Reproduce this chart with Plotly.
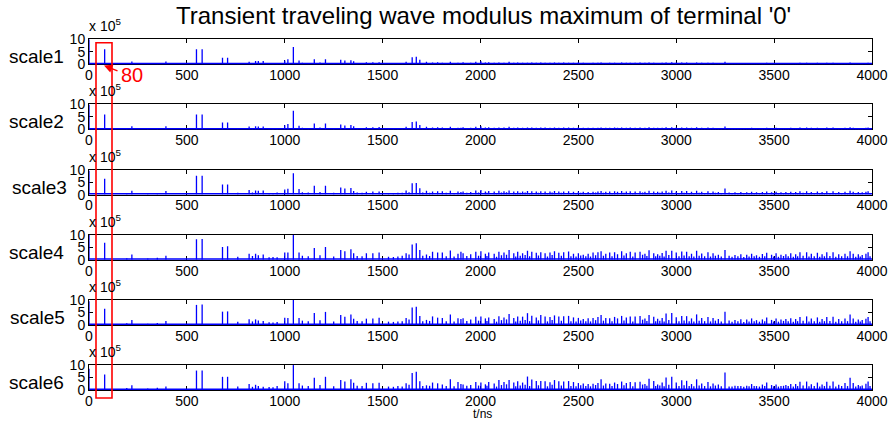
import plotly.graph_objects as go

W, H = 890, 424

t_ns = [0, 80, 193, 219, 300, 349, 393, 549, 578, 682, 708, 818, 851, 865, 890, 961, 1000, 1016, 1044, 1073,
        1151, 1208, 1286, 1307, 1338, 1352, 1417, 1450, 1482, 1578, 1600, 1620, 1635, 1651, 1672, 1690, 1724,
        1755, 1781, 1805, 1846, 1885, 1900, 1911, 1950, 1976, 2002,
        2025, 2042, 2070, 2094, 2120, 2146, 2170, 2190, 2215, 2240,
        2262, 2285, 2308, 2330, 2355, 2378, 2400, 2425, 2450, 2475,
        2500, 2525, 2550, 2575, 2600, 2616, 2640, 2660, 2685, 2700,
        2721, 2745, 2765, 2790, 2815, 2840, 2861, 2885, 2905, 2928,
        2948, 2977, 3000, 3028, 3053, 3078, 3104, 3130, 3162, 3188,
        3215, 3249, 3270, 3300, 3330, 3360, 3385, 3410, 3440, 3462,
        3487, 3510, 3535, 3560, 3585, 3610, 3632, 3666, 3690, 3721,
        3745, 3769, 3801, 3830, 3862, 3888, 3904, 3930, 3950, 3969,
        3980]

scale1 = [10, 6.0, 0.2, 1.1, 0.3, 0.5, 1.1, 6.0, 6.0, 2.6, 2.6, 1.0, 1.3, 1.3, 1.3, 0.5, 1.5, 2.0, 6.9, 1.5,
          2.0, 2.0, 1.8, 1.5, 1.6, 1.2, 0.8, 0.8, 0.8, 0.5, 0.4, 1.0, 0.5, 2.8, 3.0, 1.8, 1.0, 0.7, 0.8, 0.6,
          1.0, 0.6, 0.5, 0.8, 0.6, 1.0, 1.2,
          0.7, 0.8, 0.6, 0.7, 0.6, 1.0, 0.6, 0.7, 0.6, 0.6,
          0.7, 0.6, 0.7, 0.6, 0.6, 0.7, 0.6, 0.7, 0.6, 0.6,
          0.7, 0.6, 0.5, 0.6, 0.6, 0.7, 0.5, 0.6, 0.6, 0.5,
          0.7, 0.6, 0.6, 0.6, 0.7, 0.6, 0.7, 0.6, 0.5, 0.6,
          0.7, 0.8, 0.6, 0.7, 0.7, 0.5, 0.7, 0.6, 0.6, 0.6,
          0.5, 1.0, 0.4, 0.4, 0.5, 0.5, 0.5, 0.4, 0.5, 0.6,
          0.4, 0.5, 0.4, 0.5, 0.5, 0.5, 0.6, 0.6, 0.5, 0.6,
          0.5, 0.6, 0.6, 0.5, 0.5, 0.7, 0.5, 0.5, 0.4, 0.5,
          0.6]

scale2 = [10, 6.0, 0.3, 1.3, 0.3, 0.6, 1.3, 6.0, 6.0, 2.8, 2.8, 1.2, 1.3, 1.2, 1.2, 0.6, 1.7, 2.2, 7.5, 1.5,
          2.4, 2.4, 2.0, 1.6, 1.8, 1.3, 0.9, 0.9, 1.0, 0.6, 0.5, 1.1, 0.6, 3.0, 3.2, 1.8, 1.1, 0.8, 0.9, 0.8,
          1.1, 0.7, 0.7, 0.9, 0.7, 1.1, 1.3,
          0.8, 0.9, 0.7, 0.8, 0.8, 1.1, 0.7, 0.8, 0.7, 0.8,
          0.8, 0.7, 0.8, 0.8, 0.7, 0.8, 0.7, 0.8, 0.8, 0.7,
          0.8, 0.7, 0.7, 0.7, 0.7, 0.8, 0.7, 0.7, 0.8, 0.7,
          0.8, 0.7, 0.8, 0.7, 0.8, 0.7, 0.9, 0.7, 0.7, 0.7,
          0.9, 0.9, 0.8, 0.8, 0.8, 0.7, 0.9, 0.7, 0.8, 0.7,
          0.6, 1.2, 0.5, 0.6, 0.6, 0.6, 0.7, 0.6, 0.6, 0.7,
          0.6, 0.7, 0.6, 0.6, 0.7, 0.6, 0.8, 0.8, 0.7, 0.7,
          0.6, 0.8, 0.8, 0.6, 0.7, 0.9, 0.7, 0.6, 0.6, 0.7,
          0.8]

scale3 = [9.5, 6.3, 0.4, 1.5, 0.4, 0.6, 1.4, 7.5, 7.5, 4.0, 4.0, 1.8, 1.6, 1.5, 1.6, 0.8, 2.0, 2.3, 8.5, 2.2,
          3.5, 3.5, 2.8, 2.4, 2.6, 1.4, 1.1, 1.2, 1.2, 0.7, 0.7, 1.6, 0.9, 4.5, 4.6, 2.5, 1.5, 1.2, 1.3, 1.3,
          1.5, 1.2, 1.0, 1.2, 1.0, 1.6, 1.8,
          1.2, 1.4, 1.2, 1.5, 1.3, 1.6, 1.2, 1.3, 1.2, 1.4,
          1.3, 1.2, 1.3, 1.2, 1.2, 1.4, 1.2, 1.2, 1.3, 1.1,
          1.2, 1.1, 1.0, 1.1, 1.2, 1.4, 1.1, 1.2, 1.3, 1.1,
          1.4, 1.2, 1.3, 1.2, 1.3, 1.1, 1.5, 1.2, 1.1, 1.2,
          1.5, 1.6, 1.2, 1.4, 1.4, 1.1, 1.5, 1.1, 1.3, 1.2,
          1.0, 2.4, 0.8, 0.9, 1.0, 0.9, 1.1, 0.9, 1.0, 1.2,
          0.9, 1.1, 0.9, 1.0, 1.1, 1.0, 1.3, 1.3, 1.0, 1.2,
          1.0, 1.3, 1.3, 1.0, 1.1, 1.5, 1.1, 1.0, 0.9, 1.1,
          1.3]

scale4 = [10, 6.8, 0.6, 2.1, 0.5, 0.8, 1.6, 8.2, 8.3, 5.1, 5.4, 2.4, 2.4, 1.8, 2.1, 1.0, 2.9, 2.9, 10, 2.9,
          4.7, 5.1, 3.9, 3.4, 4.2, 2.6, 2.6, 2.6, 2.9, 1.3, 1.6, 2.6, 2.1, 6.1, 6.6, 3.9, 2.1, 3.2, 2.9, 2.9,
          3.7, 2.4, 3.2, 2.6, 2.2, 3.2, 3.4,
          2.4, 2.9, 2.4, 3.2, 2.9, 3.9, 2.6, 3.2, 2.6, 3.6,
          3.2, 2.8, 3.0, 2.6, 2.9, 3.4, 2.8, 3.0, 3.3, 2.4,
          2.6, 2.0, 2.4, 2.9, 3.0, 3.4, 2.4, 2.9, 3.0, 2.2,
          3.4, 2.6, 3.2, 2.9, 3.2, 2.4, 3.8, 2.6, 2.2, 2.7,
          3.6, 3.6, 2.9, 3.3, 3.2, 2.4, 3.6, 2.5, 3.0, 2.6,
          2.0, 3.9, 1.6, 1.9, 2.2, 2.0, 2.4, 1.8, 2.3, 2.8,
          2.0, 2.6, 2.0, 2.2, 2.6, 2.2, 3.0, 3.0, 2.4, 2.8,
          2.2, 3.0, 3.0, 2.2, 2.4, 3.4, 2.4, 2.2, 1.9, 2.4,
          3.0]

scale5 = [9.5, 6.5, 0.7, 2.0, 0.5, 0.8, 1.6, 8.0, 8.2, 5.3, 5.4, 2.3, 2.2, 1.8, 1.6, 1.2, 2.9, 2.8, 10, 2.8,
          4.8, 5.2, 4.0, 3.3, 4.2, 2.5, 2.5, 2.6, 2.9, 1.4, 1.5, 2.8, 2.2, 7.0, 7.3, 3.6, 2.0, 3.4, 2.9, 2.8,
          4.2, 2.7, 2.4, 2.7, 2.2, 3.3, 3.4,
          2.6, 3.0, 2.4, 3.5, 3.0, 4.4, 2.8, 3.4, 3.3, 4.7,
          3.7, 3.0, 4.0, 3.4, 3.2, 3.8, 3.4, 3.5, 3.6, 3.0,
          2.8, 2.4, 2.7, 2.8, 3.2, 4.0, 2.8, 2.7, 3.2, 2.6,
          3.6, 3.0, 3.4, 3.4, 3.6, 2.6, 4.0, 3.3, 2.5, 2.8,
          4.6, 4.8, 3.1, 3.6, 3.5, 2.6, 4.2, 2.8, 3.2, 2.8,
          2.4, 5.3, 1.8, 2.0, 2.3, 2.2, 2.6, 1.9, 2.2, 3.0,
          2.0, 2.6, 2.2, 2.4, 2.7, 2.4, 3.2, 3.4, 2.6, 3.0,
          2.4, 3.2, 3.3, 2.4, 2.6, 4.2, 2.6, 2.2, 2.0, 2.5,
          3.2]

scale6 = [8.5, 6.2, 0.8, 1.9, 0.6, 0.9, 1.4, 7.8, 7.8, 5.3, 5.3, 2.4, 2.1, 1.6, 1.3, 1.6, 3.5, 2.7, 10, 2.7,
          4.9, 5.3, 4.0, 3.4, 4.3, 2.9, 2.9, 2.7, 2.9, 1.6, 1.4, 2.7, 2.1, 6.8, 7.3, 3.5, 1.9, 3.0, 2.7, 2.2,
          4.3, 3.2, 2.4, 2.2, 2.0, 3.2, 3.0,
          2.3, 3.2, 2.6, 4.0, 3.2, 4.0, 3.0, 3.5, 3.0, 5.4,
          4.2, 3.6, 3.6, 3.5, 3.1, 4.0, 3.5, 3.4, 3.6, 3.2,
          2.8, 2.6, 2.4, 2.5, 2.8, 4.3, 2.6, 2.5, 3.0, 2.4,
          3.4, 2.8, 3.2, 3.1, 3.3, 2.4, 4.5, 3.6, 2.2, 3.0,
          5.0, 5.3, 3.0, 3.9, 3.7, 2.4, 4.3, 2.6, 3.2, 2.6,
          2.2, 7.0, 1.4, 1.7, 1.6, 1.7, 2.4, 1.6, 2.2, 3.0,
          2.0, 2.2, 1.6, 2.0, 2.4, 2.4, 3.3, 3.4, 2.3, 3.0,
          2.2, 3.3, 3.4, 2.1, 2.8, 4.9, 2.8, 2.0, 1.8, 2.5,
          3.4]

# smaller in-between spikes
t_minor = [760, 835, 920, 940, 1090, 1120, 1180, 1250, 1370, 1395, 1530, 1555, 1705, 1740, 1825, 1865, 1930, 1990,
           2033, 2082, 2107, 2133, 2180, 2203, 2228, 2251, 2296, 2342,
           2366, 2413, 2462, 2488, 2512, 2538, 2562, 2588, 2628, 2672,
           2733, 2778, 2828, 2850, 2895, 2916, 2938, 2962, 3014, 3040,
           3066, 3090, 3117, 3145, 3175, 3200, 3230, 3285, 3315, 3345,
           3372, 3398, 3425, 3452, 3498, 3522, 3548, 3572, 3598, 3620,
           3648, 3678, 3705, 3733, 3757, 3785, 3815, 3845, 3875, 3917,
           3940, 3990]

minor1 = [0.4, 0.5, 0.3, 0.4, 0.6, 0.5, 0.7, 0.4, 0.5, 0.4, 0.3, 0.3, 0.5, 0.4, 0.4, 0.3, 0.4, 0.5,
          0.4, 0.3, 0.4, 0.5, 0.3, 0.4, 0.4, 0.3, 0.4, 0.3,
          0.4, 0.4, 0.3, 0.3, 0.4, 0.3, 0.3, 0.4, 0.4, 0.3,
          0.4, 0.3, 0.4, 0.3, 0.3, 0.4, 0.3, 0.4, 0.3, 0.4,
          0.3, 0.3, 0.4, 0.3, 0.3, 0.4, 0.3, 0.3, 0.3, 0.3,
          0.3, 0.3, 0.3, 0.3, 0.3, 0.3, 0.3, 0.3, 0.3, 0.3,
          0.4, 0.3, 0.3, 0.3, 0.3, 0.3, 0.3, 0.3, 0.3, 0.3,
          0.3, 0.3]
minor2 = [0.5, 0.6, 0.4, 0.5, 0.7, 0.6, 0.8, 0.5, 0.6, 0.5, 0.4, 0.4, 0.6, 0.5, 0.5, 0.4, 0.5, 0.6,
          0.5, 0.4, 0.5, 0.6, 0.4, 0.5, 0.5, 0.4, 0.5, 0.4,
          0.5, 0.5, 0.4, 0.4, 0.5, 0.4, 0.4, 0.5, 0.5, 0.4,
          0.5, 0.4, 0.5, 0.4, 0.4, 0.5, 0.4, 0.5, 0.4, 0.5,
          0.4, 0.4, 0.5, 0.4, 0.4, 0.5, 0.4, 0.4, 0.4, 0.4,
          0.4, 0.4, 0.4, 0.4, 0.4, 0.4, 0.4, 0.4, 0.4, 0.4,
          0.5, 0.4, 0.4, 0.4, 0.4, 0.4, 0.4, 0.4, 0.4, 0.4,
          0.4, 0.4]
minor3 = [0.7, 0.8, 0.6, 0.6, 0.9, 0.8, 1.0, 0.7, 0.8, 0.7, 0.6, 0.5, 0.8, 0.7, 0.7, 0.6, 0.7, 0.8,
          0.7, 0.6, 0.8, 0.9, 0.6, 0.7, 0.8, 0.6, 0.7, 0.6,
          0.8, 0.7, 0.6, 0.6, 0.7, 0.6, 0.6, 0.8, 0.7, 0.6,
          0.7, 0.6, 0.8, 0.6, 0.6, 0.7, 0.6, 0.8, 0.6, 0.7,
          0.6, 0.6, 0.7, 0.6, 0.6, 0.7, 0.6, 0.5, 0.6, 0.5,
          0.6, 0.6, 0.5, 0.6, 0.6, 0.5, 0.6, 0.6, 0.5, 0.6,
          0.7, 0.6, 0.6, 0.5, 0.6, 0.6, 0.5, 0.6, 0.6, 0.5,
          0.6, 0.6]
minor4 = [1.2, 1.5, 1.0, 1.1, 1.6, 1.4, 1.8, 1.3, 1.5, 1.4, 1.2, 1.1, 1.6, 1.5, 1.4, 1.3, 1.5, 1.6,
          1.5, 1.2, 1.8, 2.0, 1.3, 1.6, 1.9, 1.4, 1.7, 1.3,
          1.9, 1.6, 1.4, 1.3, 1.7, 1.4, 1.3, 1.8, 1.6, 1.4,
          1.7, 1.3, 2.0, 1.5, 1.4, 1.6, 1.3, 1.9, 1.4, 1.7,
          1.4, 1.3, 1.6, 1.4, 1.3, 1.6, 1.3, 1.2, 1.4, 1.1,
          1.3, 1.4, 1.2, 1.4, 1.3, 1.2, 1.5, 1.4, 1.2, 1.4,
          1.6, 1.3, 1.4, 1.2, 1.4, 1.5, 1.2, 1.4, 1.4, 1.2,
          1.3, 1.4]
minor5 = [1.3, 1.4, 1.1, 1.0, 1.7, 1.5, 1.9, 1.4, 1.6, 1.5, 1.3, 1.2, 1.5, 1.6, 1.5, 1.4, 1.6, 1.7,
          1.6, 1.3, 1.9, 2.2, 1.4, 1.7, 2.0, 1.5, 1.8, 1.4,
          2.0, 1.7, 1.5, 1.4, 1.8, 1.5, 1.4, 1.9, 1.7, 1.5,
          1.8, 1.4, 2.1, 1.6, 1.5, 1.7, 1.4, 2.0, 1.5, 1.8,
          1.5, 1.4, 1.7, 1.5, 1.4, 1.7, 1.4, 1.3, 1.5, 1.2,
          1.4, 1.5, 1.3, 1.5, 1.4, 1.3, 1.6, 1.5, 1.3, 1.5,
          1.7, 1.4, 1.5, 1.3, 1.5, 1.6, 1.3, 1.5, 1.5, 1.3,
          1.4, 1.5]
minor6 = [1.4, 1.3, 1.2, 1.1, 1.8, 1.6, 2.0, 1.5, 1.7, 1.6, 1.4, 1.3, 1.6, 1.7, 1.6, 1.5, 1.7, 1.8,
          1.7, 1.4, 2.0, 2.3, 1.5, 1.8, 2.1, 1.6, 1.9, 1.5,
          2.1, 1.8, 1.6, 1.5, 1.9, 1.6, 1.5, 2.0, 1.8, 1.6,
          1.9, 1.5, 2.2, 1.7, 1.6, 1.8, 1.5, 2.1, 1.6, 1.9,
          1.6, 1.5, 1.8, 1.6, 1.5, 1.8, 1.5, 1.4, 1.6, 1.3,
          1.5, 1.6, 1.4, 1.6, 1.5, 1.4, 1.7, 1.6, 1.4, 1.6,
          1.8, 1.5, 1.6, 1.4, 1.6, 1.7, 1.4, 1.6, 1.6, 1.4,
          1.5, 1.6]

scales = [scale1, scale2, scale3, scale4, scale5, scale6]
minors = [minor1, minor2, minor3, minor4, minor5, minor6]
scale_names = ["scale1", "scale2", "scale3", "scale4", "scale5", "scale6"]
x_ticks = [0, 500, 1000, 1500, 2000, 2500, 3000, 3500, 4000]
y_ticks = [0, 5, 10]
title_text = "Transient traveling wave modulus maximum of terminal '0'"
marked_t = "80"

for s in scales:
    assert len(s) == len(t_ns)
for m in minors:
    assert len(m) == len(t_minor)

FONT = "Liberation Sans, Arial, Helvetica, sans-serif"
BLUE = "#0000ff"


def px(x):
    return x / W


def py(y):
    return 1 - y / H


X0, X1 = 89, 872
TOP0, STEP, AX_H = 39.3, 65.15, 25.0
label_dx = [36, 36, 39, 36, 37.5, 36.5]

fig = go.Figure()
annotations = []

for i, (h, hm) in enumerate(zip(scales, minors)):
    top = TOP0 + STEP * i
    bot = top + AX_H
    pairs = sorted(list(zip(t_ns, h)) + list(zip(t_minor, hm)))
    xs, ys = [], []
    for t, v in pairs:
        xs += [t, t, None]
        ys += [0, v, None]
    xa = "x" if i == 0 else f"x{i+1}"
    ya = "y" if i == 0 else f"y{i+1}"
    fig.add_trace(go.Scatter(x=[0, 4000], y=[0, 0], mode="lines",
                             line=dict(color=BLUE, width=3), xaxis=xa, yaxis=ya,
                             hoverinfo="skip", showlegend=False))
    fig.add_trace(go.Scatter(x=xs, y=ys, mode="lines",
                             line=dict(color=BLUE, width=1.3), xaxis=xa, yaxis=ya,
                             showlegend=False))
    xkey = "xaxis" if i == 0 else f"xaxis{i+1}"
    ykey = "yaxis" if i == 0 else f"yaxis{i+1}"
    fig.update_layout(**{
        xkey: dict(domain=[px(X0), px(X1)], anchor=ya, range=[0, 4000], automargin=False,
                   tickvals=x_ticks, ticktext=[str(v) for v in x_ticks],
                   ticks="inside", ticklen=4, tickwidth=1, tickcolor="black",
                   ticklabelstandoff=-2,
                   showline=True, linecolor="black", linewidth=1, mirror="ticks",
                   showgrid=False, zeroline=False, layer="below traces",
                   tickfont=dict(family=FONT, size=14, color="black")),
        ykey: dict(domain=[py(bot), py(top)], anchor=xa, range=[0, 10], automargin=False,
                   tickvals=y_ticks, ticktext=[str(v) for v in y_ticks],
                   ticks="inside", ticklen=4, tickwidth=1, tickcolor="black",
                   showline=True, linecolor="black", linewidth=1, mirror="ticks",
                   showgrid=False, zeroline=False, layer="below traces",
                   tickfont=dict(family=FONT, size=14, color="black")),
    })
    annotations.append(dict(text="x 10<sup>5</sup>", xref="paper", yref="paper",
                            x=px(X0 - 2), y=py(top - 3), xanchor="left", yanchor="bottom",
                            showarrow=False, font=dict(family=FONT, size=14, color="black")))
    annotations.append(dict(text=scale_names[i], xref="paper", yref="paper",
                            x=px(label_dx[i]), y=py((top + bot) / 2 + 5), xanchor="center",
                            yanchor="middle", showarrow=False,
                            font=dict(family=FONT, size=19, color="black")))

annotations.append(dict(text=title_text, xref="paper", yref="paper", x=px(484), y=py(16),
                        xanchor="center", yanchor="middle", showarrow=False,
                        font=dict(family=FONT, size=24, color="black")))
annotations.append(dict(text="t/ns", xref="paper", yref="paper", x=px(482), y=py(414),
                        xanchor="center", yanchor="middle", showarrow=False,
                        font=dict(family=FONT, size=12, color="black")))
annotations.append(dict(text=marked_t, xref="paper", yref="paper", x=px(132), y=py(75),
                        xanchor="center", yanchor="middle", showarrow=False,
                        font=dict(family=FONT, size=20, color="red")))
annotations.append(dict(text="", xref="paper", yref="paper", x=px(104), y=py(65.5),
                        showarrow=True, ax=15, ay=6, arrowhead=2, arrowsize=1.2,
                        arrowwidth=1.4, arrowcolor="red", standoff=0, startstandoff=0))

fig.update_layout(
    width=W, height=H, margin=dict(l=0, r=0, t=0, b=0, pad=0, autoexpand=False),
    paper_bgcolor="white", plot_bgcolor="white",
    annotations=annotations,
    shapes=[dict(type="rect", xref="paper", yref="paper", x0=px(96), x1=px(112),
                 y0=py(398), y1=py(42.7), line=dict(color="red", width=1.6),
                 fillcolor="rgba(0,0,0,0)", layer="above")],
)

fig.write_html("out.html", config={"displayModeBar": False},
               post_script="document.body.style.margin='0';document.body.style.overflow='hidden';")
